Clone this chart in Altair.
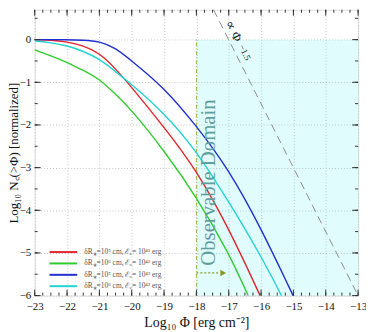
import altair as alt
import pandas as pd

# ---- data ----
labels = [
    "δR⁎=10⁵ cm, ℰ₀= 10⁴¹ erg",
    "δR⁎=10⁶ cm, ℰ₀= 10⁴¹ erg",
    "δR⁎=10⁵ cm, ℰ₀= 10⁴² erg",
    "δR⁎=10⁶ cm, ℰ₀= 10⁴² erg",
]
colors = ["#e3242b", "#2ecc2e", "#1f2fd0", "#22d3d3"]

phi_red = [-23, -22.5, -22, -21.5, -21, -20.5, -20, -19, -18, -17, -16.03]
n_red = [0, -0.01, -0.05, -0.14, -0.31, -0.68, -1.12, -2.05, -3.05, -4.42, -6.0]

phi_green = [-23, -22.5, -22, -21.5, -21, -20.5, -20, -19, -18, -17, -16.4]
n_green = [-0.24, -0.38, -0.53, -0.72, -0.92, -1.28, -1.65, -2.6, -3.68, -5.0, -6.0]

phi_blue = [-23, -22, -21.5, -21, -20.5, -20, -19, -18, -17, -16, -15.01]
n_blue = [0, 0, -0.01, -0.04, -0.19, -0.5, -1.12, -2.02, -3.04, -4.42, -6.0]

phi_cyan = [-23, -22.5, -22, -21.5, -21, -20.5, -20, -19, -18, -17, -16, -15.37]
n_cyan = [-0.03, -0.07, -0.14, -0.27, -0.45, -0.75, -1.05, -1.72, -2.6, -3.8, -5.07, -6.0]

powerlaw_phi = [-17.47, -13.0]
powerlaw_n = [0.7, -6.0]

obs_phi = [-18, -13]
obs_n = [-6, 0]
arrow_phi = [-18, -17.3]
arrow_n = [-5.47, -5.47]
arrow_head = [-17.17]

x_major = list(range(-23, -12))
x_minor = [v / 4 for v in range(-92, -51)]
y_major = list(range(-6, 1))
y_minor = [v / 2 for v in range(-12, 2)]

X_DOM = [-23, -13]
Y_DOM = [-6, 0.7]
W, H = 327, 289
FONT = "Liberation Serif"

rows = []
for lab, xs_, ys_ in zip(labels, [phi_red, phi_green, phi_blue, phi_cyan],
                         [n_red, n_green, n_blue, n_cyan]):
    for a, b in zip(xs_, ys_):
        rows.append({"phi": a, "n": b, "series": lab})
curves_df = pd.DataFrame(rows)

xs = alt.Scale(domain=X_DOM, nice=False, zero=False)
ys = alt.Scale(domain=Y_DOM, nice=False, zero=False)

x_axis = alt.Axis(
    values=x_major, format="d", grid=True, gridDash=[1, 2], gridColor="#c8c8c8",
    ticks=False, domain=False, labelFont=FONT, labelFontSize=11,
    labelColor="#111", labelPadding=5, labelOverlap=False, labelBound=False,
    labelFlush=False, title="Log₁₀ Φ [erg cm⁻²]",
    titleFont=FONT, titleFontSize=14, titleFontWeight="normal",
    titleColor="#111", titlePadding=4)
y_axis = alt.Axis(
    values=y_major, format="d", grid=True, gridDash=[1, 2], gridColor="#c8c8c8",
    ticks=False, domain=False, labelFont=FONT, labelFontSize=11,
    labelColor="#111", labelPadding=4, labelOverlap=False,
    title="Log₁₀ N꜀(>Φ) [normalized]",
    titleFont=FONT, titleFontSize=13, titleFontWeight="normal",
    titleColor="#111", titleX=-21, titleBaseline="middle")


def X(field):
    return alt.X(field, scale=xs, axis=x_axis)


def Y(field):
    return alt.Y(field, scale=ys, axis=y_axis)


# shaded observable domain
region = alt.Chart(pd.DataFrame({"x": [obs_phi[0]], "x2": [obs_phi[1]],
                                 "y": [obs_n[0]], "y2": [obs_n[1]]})).mark_rect(
    color="#00e5e5", opacity=0.12
).encode(x=X("x:Q"), x2="x2:Q", y=Y("y:Q"), y2="y2:Q")

vline = alt.Chart(pd.DataFrame({"x": [obs_phi[0]], "y": [obs_n[0]], "y2": [obs_n[1]]})).mark_rule(
    color="#b0a840", strokeDash=[4, 2, 1, 2], strokeWidth=1
).encode(x=X("x:Q"), y=Y("y:Q"), y2="y2:Q")

arrow_line = alt.Chart(pd.DataFrame({"x": arrow_phi, "y": arrow_n})).mark_line(
    color="#8a9a20", strokeDash=[2, 2], strokeWidth=1.3
).encode(x=X("x:Q"), y=Y("y:Q"))

arrow_tip = alt.Chart(pd.DataFrame({"x": arrow_head, "y": [arrow_n[0]]})).mark_point(
    shape="triangle-right", filled=True, color="#8a9a20", size=45, opacity=1
).encode(x=X("x:Q"), y=Y("y:Q"))

powerlaw = alt.Chart(pd.DataFrame({"x": powerlaw_phi, "y": powerlaw_n})).mark_line(
    color="#8c8c8c", strokeDash=[8, 5], strokeWidth=1
).encode(x=X("x:Q"), y=Y("y:Q"))

curves = alt.Chart(curves_df).mark_line(strokeWidth=1.4, interpolate="basis").encode(
    x=X("phi:Q"),
    y=Y("n:Q"),
    color=alt.Color("series:N", scale=alt.Scale(domain=labels, range=colors),
                    sort=labels,
                    legend=alt.Legend(
                        title=None, orient="none", legendX=23, legendY=239,
                        symbolType="M-2.8,0H2.8", symbolSize=100, symbolStrokeWidth=2,
                        symbolFillColor="transparent",
                        labelFont=FONT, labelFontSize=7.5, labelColor="#555",
                        rowPadding=1.5, labelOffset=15, symbolOffset=0,
                        padding=0)),
    detail="series:N",
)

pl_text = alt.Chart(pd.DataFrame({"x": [-16.85], "y": [0.2], "t": ["∝ Φ"]})).mark_text(
    angle=63.6, font=FONT, fontSize=13, color="#222"
).encode(x=X("x:Q"), y=Y("y:Q"), text="t:N")
pl_exp = alt.Chart(pd.DataFrame({"x": [-16.5], "y": [-0.3], "t": ["−1.5"]})).mark_text(
    angle=63.6, font=FONT, fontSize=9, color="#222"
).encode(x=X("x:Q"), y=Y("y:Q"), text="t:N")

obs_text = alt.Chart(pd.DataFrame({"x": [-17.62], "y": [-3.35], "t": ["Observable Domain"]})).mark_text(
    angle=270, font=FONT, fontSize=21, color="#5f9ea0"
).encode(x=X("x:Q"), y=Y("y:Q"), text="t:N")


# ticks drawn inside the frame on all four sides
def xticks(vals, length):
    d = pd.DataFrame({"x": vals})
    bot = alt.Chart(d).mark_rule(color="#333", strokeWidth=1).encode(
        x=X("x:Q"), y=alt.value(H), y2=alt.value(H - length))
    top = alt.Chart(d).mark_rule(color="#333", strokeWidth=1).encode(
        x=X("x:Q"), y=alt.value(0), y2=alt.value(length))
    return [bot, top]


def yticks(vals, length):
    d = pd.DataFrame({"y": vals})
    left = alt.Chart(d).mark_rule(color="#333", strokeWidth=1).encode(
        y=Y("y:Q"), x=alt.value(0), x2=alt.value(length))
    right = alt.Chart(d).mark_rule(color="#333", strokeWidth=1).encode(
        y=Y("y:Q"), x=alt.value(W), x2=alt.value(W - length))
    return [left, right]


tick_layers = xticks(x_major, 6) + xticks(x_minor, 3) + yticks(y_major, 6) + yticks(y_minor, 3)

chart = alt.layer(
    region, vline, powerlaw, curves, arrow_line, arrow_tip, pl_text, pl_exp, obs_text,
    *tick_layers
).properties(
    width=W, height=H,
    autosize=alt.AutoSizeParams(type="none"),
    padding={"left": 27, "top": 0, "right": 8, "bottom": 33},
).configure_view(
    stroke="#444", strokeWidth=1.6
).configure_axis(
    labelOverlap=False
).configure(background="white")

chart.save("out.html", embed_options={"renderer": "svg", "actions": False})
